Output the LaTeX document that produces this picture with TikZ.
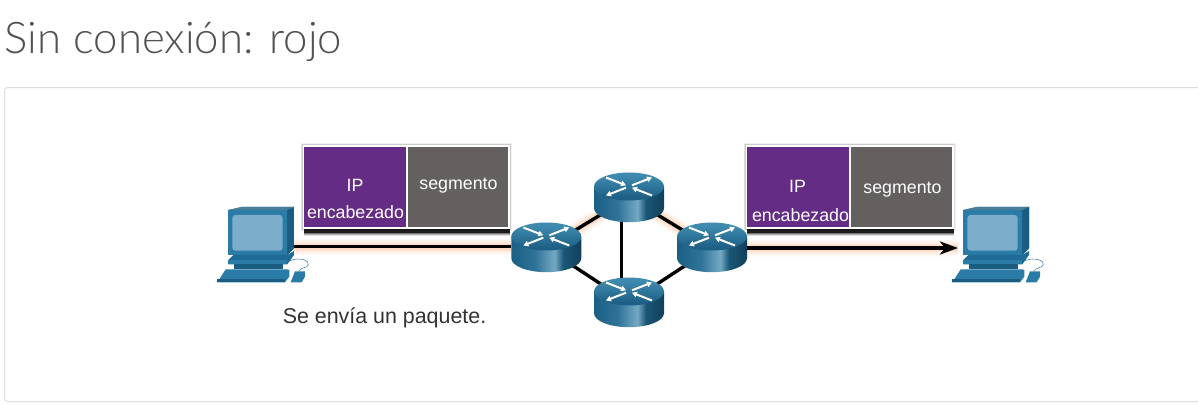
\documentclass[tikz,border=0pt]{standalone}
\usepackage{fontspec}
\setmainfont{Liberation Sans}
\newfontfamily\titlefont{Lato Light}
\usetikzlibrary{arrows.meta}
\definecolor{pcdark}{HTML}{1F6A96}
\definecolor{pcmid}{HTML}{2A7BA6}
\definecolor{pcdeep}{HTML}{1B5C82}
\definecolor{pcscreen}{HTML}{7CADCB}
\definecolor{ipviolet}{HTML}{652C86}
\definecolor{seggrey}{HTML}{656060}
\definecolor{glowc}{HTML}{FF9A5C}
\definecolor{rA}{HTML}{1C5F85}
\definecolor{rB}{HTML}{2F7398}
\definecolor{rC}{HTML}{74A9C4}
\definecolor{rD}{HTML}{1A5776}
\definecolor{rE}{HTML}{123F5A}
\pgfdeclarehorizontalshading{routerside}{100bp}{color(0bp)=(rA);color(25bp)=(rA);color(42bp)=(rB);color(56bp)=(rC);color(62bp)=(rD);color(75bp)=(rE);color(100bp)=(rE)}
\definecolor{tA}{HTML}{3F8BAF}
\definecolor{tB}{HTML}{1D5F85}
\pgfdeclareverticalshading{routertop}{100bp}{color(0bp)=(tB);color(30bp)=(tB);color(70bp)=(tA);color(100bp)=(tA)}
\tikzset{
  anchornode/.style={inner sep=0pt,outer sep=0pt,minimum width=#1,minimum height=20pt},
  wire/.style={line width=3.4pt,black},
  boxtext/.style={white,font=\fontsize{17.8}{20}\selectfont,inner sep=0pt},
  rarrow/.style={white,line width=2pt,-{Triangle[length=5pt,width=5.5pt]}},
}
% router art, centre of the top ellipse at #1,#2
\newcommand{\routerart}[2]{%
  \begin{scope}[shift={(#1,#2)}]
    \shade[shading=routerside] (-35,0) -- (-35,21.7) arc[start angle=180,end angle=0,x radius=35,y radius=14] -- (35,0) -- cycle;
    \shade[shading=routertop] (0,0) ellipse[x radius=35,y radius=14];
    \draw[rarrow] (-23,-9) -- (-3,-1.2);
    \draw[rarrow] (23,9) -- (3,1.2);
    \draw[rarrow] (3,-1.2) -- (23,-9);
    \draw[rarrow] (-3,1.2) -- (-23,9);
  \end{scope}}
% computer art, in zoomed coordinates
\newcommand{\pcart}[1]{%
  \begin{scope}[shift={(#1,130)},x=0.3333pt,y=-0.3333pt]
    \fill[pcdark] (85,240) -- (125,231) -- (282,231) -- (282,355) -- (262,375) -- (85,375) -- cycle;
    \fill[pcdeep] (262,240) -- (282,231) -- (282,355) -- (262,375) -- cycle;
    \fill[pcmid] (85,240) -- (262,240) -- (262,375) -- (85,375) -- cycle;
    \fill[pcdeep!80!white] (85,240) -- (125,231) -- (282,231) -- (262,240) -- cycle;
    \fill[pcscreen,rounded corners=3pt] (97,255) rectangle (248,362);
    \fill[pcdark] (100,375) -- (262,375) -- (282,363) -- (282,375) -- (262,403) -- (85,403) -- (85,390) -- cycle;
    \fill[pcmid] (85,390) rectangle (262,403);
    \fill[pcdeep] (103,403) rectangle (250,417);
    \fill[pcmid] (77,418) -- (262,418) -- (268,420) -- (268,440) -- (255,457) -- (52,457) -- cycle;
    \fill[pcdeep] (52,447) -- (255,447) -- (255,457) -- (52,457) -- cycle;
    \fill[pcmid] (285,424) -- (315,424) -- (315,440) -- (305,457) -- (272,457) -- cycle;
    \draw[pcmid,line width=0.5pt] (270,392) .. controls (300,380) and (330,392) .. (325,405) .. controls (320,415) and (300,412) .. (297,424);
  \end{scope}}
% soft shadow and white frame of one packet
\newcommand{\packetshadow}[4]{%
  \foreach \s/\o in {2/0.05,1.3/0.07,0.6/0.09}{
    \fill[black,opacity=\o] (#1-\s,#2-\s) rectangle (#3+\s,#4+\s);
  }
  \foreach \s/\o in {7/0.12,6/0.2,5/0.35,4/0.75}{
    \fill[black,opacity=\o] (#1+1,#4) rectangle (#3,#4+\s);
  }
  \fill[white] (#1,#2) rectangle (#3,#4);
}
\begin{document}
\begin{tikzpicture}[x=1pt,y=-1pt]
\useasboundingbox (0,0) rectangle (1198,404);
\fill[white] (0,0) rectangle (1198,404);
% panel
\draw[draw=black!13,line width=1pt,rounded corners=3pt] (4.5,87.5) rectangle (1203,401.5);
% title
\node (title) [anchor=base west,inner sep=0pt,text=black!68,font=\titlefont\fontsize{43.7}{48}\selectfont] at (4.5,53.5) {Sin conexión: rojo};
% anchors
\node (pcL) [anchornode=1pt,anchor=east] at (294,246.7) {};
\node (pcR) [anchornode=1pt,anchor=west] at (958,248) {};
\node (r1) [anchornode=70pt] at (546,248) {};
\node (r2) [anchornode=70pt] at (629,197.5) {};
\node (r3) [anchornode=70pt] at (712,248) {};
\node (r4) [anchornode=70pt] at (629,302.5) {};
% glow
\foreach \w/\o in {17/0.04,14/0.06,11/0.08,8/0.10,6/0.14}{
  \draw[glowc,line width=\w pt,opacity=\o] (pcL.east) -- (pcL.east -| r1.west);
  \draw[glowc,line width=\w pt,opacity=\o] (r1.center) -- (r2.center) -- (r3.center);
  \draw[glowc,line width=\w pt,opacity=\o] (r3.east) -- (pcR.west);
}
% packets
\packetshadow{302.5}{145}{510}{229}
\fill[ipviolet] (304.3,146.7) rectangle (406,226.7);
\fill[seggrey] (408.3,146.7) rectangle (508.3,226.7);
\packetshadow{745.5}{145}{953.5}{229}
\fill[ipviolet] (747.3,146.7) rectangle (849,226.7);
\fill[seggrey] (851,146.7) rectangle (952,226.7);
\node (ipL) [boxtext] at (355,185) {IP};
\node (enL) [boxtext] at (355.5,212.5) {encabezado};
\node (seL) [boxtext] at (458.5,186) {segmento};
\node (ipR) [boxtext] at (797.5,186) {IP};
\node (enR) [boxtext] at (800.5,215) {encabezado};
\node (seR) [boxtext] at (902.5,189.5) {segmento};
% wires
\draw[wire] (pcL.east) -- (pcL.east -| r1.west);
\draw[wire] (r1.center) -- (r2.center);
\draw[wire] (r2.center) -- (r3.center);
\draw[wire] (r1.center) -- (r4.center);
\draw[wire] (r3.center) -- (r4.center);
\draw[wire] ([xshift=-7.5pt]r2.center) -- ([xshift=-7.5pt]r4.center);
\draw[wire,-{Stealth[length=18pt,width=13pt,inset=5pt]}] (r3.east) -- (pcR.west);
% routers
\routerart{546.3}{236.5}
\routerart{629}{186.5}
\routerart{712}{236.5}
\routerart{629}{291.5}
% computers
\pcart{200}
\pcart{935}
\node (cap) [anchor=base,inner sep=0pt,text=black!80,font=\fontsize{21.4}{24}\selectfont] at (384.5,323) {Se envía un paquete.};
\end{tikzpicture}
\end{document}
